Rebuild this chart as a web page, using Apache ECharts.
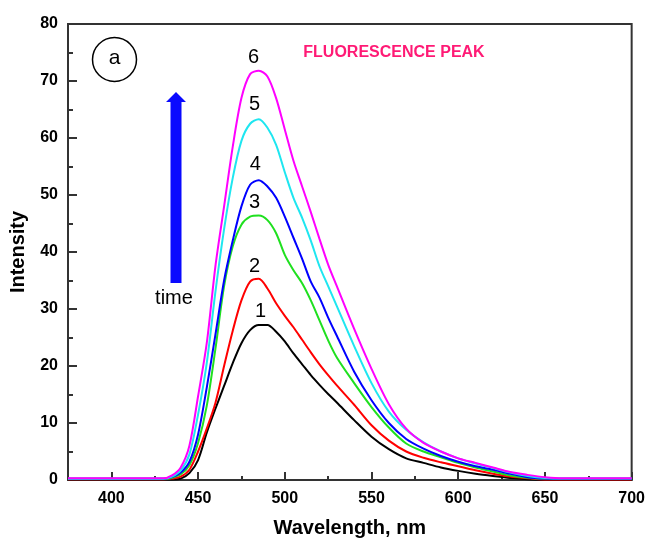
<!DOCTYPE html>
<html>
<head>
<meta charset="utf-8">
<script src="https://cdn.jsdelivr.net/npm/echarts@6/dist/echarts.min.js"></script>
<style>
  html, body { margin: 0; padding: 0; background: #fff; }
  #chart { width: 648px; height: 545px; }
</style>
</head>
<body>
<div id="chart"></div>
<script>
  // wavelength grid, nm
  var wl = [375, 400, 425, 430, 435, 440, 445, 450, 455, 460, 465, 470, 475, 480, 485, 490, 495, 500, 505, 510,
    515, 520, 525, 530, 540, 550, 560, 570, 580, 590, 600, 610, 620, 630, 640, 650, 660, 680, 700];

  // intensity of each spectrum
  var s1 = [0.1, 0.1, 0.1, 0.1, 0.1, 0.25, 1.2, 3.5, 8.3, 12.5, 16.5, 20.5, 24, 26.3, 27.2, 27.2, 26, 24.3, 22.2, 20.3,
    18.4, 16.7, 15.1, 13.6, 10.5, 7.6, 5.4, 3.8, 3, 2.2, 1.6, 1.1, 0.7, 0.35, 0.15, 0.05, 0.05, 0.05, 0.05];
  var s2 = [0.15, 0.15, 0.15, 0.15, 0.25, 0.6, 1.8, 5, 9, 13.5, 20, 26.2, 31.5, 34.8, 35.3, 33.6, 31, 28.8, 26.8, 24.6,
    22.4, 20.3, 18.4, 16.6, 13.2, 9.6, 6.9, 5, 3.9, 3.1, 2.4, 1.7, 1.1, 0.6, 0.3, 0.1, 0.1, 0.1, 0.1];
  var s3 = [0.2, 0.2, 0.2, 0.2, 0.4, 1.0, 2.6, 6.5, 13, 23, 34, 41, 44.8, 46.2, 46.4, 45.6, 43.3, 39.5, 36.8, 34.5,
    31.5, 28, 24.5, 21.5, 17, 12.8, 9.2, 6.4, 5, 4, 3, 2.2, 1.5, 0.8, 0.4, 0.2, 0.2, 0.2, 0.2];
  var s4 = [0.2, 0.2, 0.2, 0.2, 0.5, 1.3, 3.2, 8, 16.2, 25.5, 35, 42, 48, 51.8, 52.6, 51.5, 49.5, 46.2, 42.5, 38.8,
    34.8, 32, 28.5, 25.3, 19, 14, 10, 7.2, 5.5, 4.2, 3.2, 2.4, 1.8, 1.1, 0.5, 0.25, 0.2, 0.2, 0.2];
  var s5 = [0.2, 0.2, 0.2, 0.2, 0.6, 1.7, 4.5, 11.5, 20.5, 33, 44, 53, 59.5, 62.5, 63.3, 61.8, 58.8, 54, 49.5, 46,
    42, 37.5, 34, 30.5, 23.5, 17, 12, 8.8, 6.6, 5, 3.8, 2.9, 2.1, 1.3, 0.7, 0.35, 0.25, 0.25, 0.25];
  var s6 = [0.3, 0.3, 0.3, 0.3, 0.8, 2.2, 6, 14.7, 24, 37.5, 48, 58.5, 67, 71.2, 71.8, 70.8, 67, 61.5, 56, 51.5,
    47, 42.3, 37.8, 34, 26.5, 19.5, 13.3, 9, 6.5, 5, 3.8, 3, 2.2, 1.4, 0.9, 0.5, 0.3, 0.3, 0.3];

  var names = ['1', '2', '3', '4', '5', '6'];
  var colors = ['#000000', '#ff0000', '#1fe01f', '#0000ff', '#1ee6f0', '#ff00ff'];
  // where the curve numbers sit [wavelength, intensity]
  var tagPos = [[486, 29.5], [482.5, 37.5], [482.5, 48.6], [483, 55.3], [482.5, 65.8], [482, 74.1]];

  var xMajor = [400, 450, 500, 550, 600, 650, 700];
  var xMinor = [425, 475, 525, 575, 625, 675];

  var font = "'Liberation Sans', Arial, sans-serif";
  var allSeries = [s1, s2, s3, s4, s5, s6];

  var myChart = echarts.init(document.getElementById('chart'));

  var series = [];
  for (var i = 0; i < allSeries.length; i++) {
    var pts = [];
    for (var j = 0; j < wl.length; j++) {
      pts.push([wl[j], allSeries[i][j]]);
    }
    series.push({
      name: names[i],
      type: 'line',
      xAxisIndex: 0,
      data: pts,
      showSymbol: false,
      smooth: 0.3,
      lineStyle: { color: colors[i], width: 2 },
      itemStyle: { color: colors[i] },
      z: 2 + i,
      markPoint: {
        symbol: 'circle',
        symbolSize: 0,
        data: [{ coord: tagPos[i] }],
        label: {
          show: true,
          position: 'inside',
          formatter: names[i],
          color: '#000',
          fontSize: 20,
          fontFamily: font
        }
      }
    });
  }

  var option = {
    animation: false,
    backgroundColor: '#fff',
    grid: {
      left: 68,
      right: 15,
      top: 24,
      bottom: 65,
      show: true,
      borderColor: '#333',
      borderWidth: 2
    },
    xAxis: [{
      type: 'value',
      min: 375,
      max: 700,
      name: 'Wavelength, nm',
      nameLocation: 'middle',
      nameGap: 38,
      nameTextStyle: { fontSize: 20, fontWeight: 'bold', color: '#000', fontFamily: font },
      axisLine: { lineStyle: { color: '#333', width: 2 } },
      axisTick: { inside: true, length: 8, customValues: xMajor, lineStyle: { color: '#333', width: 2 } },
      axisLabel: { customValues: xMajor, margin: 11, fontSize: 16, fontWeight: 'bold', color: '#000', fontFamily: font },
      splitLine: { show: false }
    }, {
      // second axis only for the short in-between ticks
      type: 'value',
      min: 375,
      max: 700,
      position: 'bottom',
      axisLine: { show: false },
      axisTick: { inside: true, length: 4, customValues: xMinor, lineStyle: { color: '#333', width: 2 } },
      axisLabel: { show: false },
      splitLine: { show: false }
    }],
    yAxis: {
      type: 'value',
      min: 0,
      max: 80,
      interval: 10,
      name: 'Intensity',
      nameLocation: 'middle',
      nameGap: 40,
      nameTextStyle: { fontSize: 20, fontWeight: 'bold', color: '#000', fontFamily: font },
      axisLine: { show: true, lineStyle: { color: '#333', width: 2 } },
      axisTick: { show: true, inside: true, length: 9, lineStyle: { color: '#333', width: 2 } },
      minorTick: { show: true, splitNumber: 2, length: 5, lineStyle: { color: '#333', width: 2 } },
      axisLabel: { margin: 10, fontSize: 16, fontWeight: 'bold', color: '#000', fontFamily: font },
      splitLine: { show: false },
      minorSplitLine: { show: false }
    },
    graphic: [
      {
        type: 'circle',
        shape: { cx: 114.5, cy: 59.5, r: 22 },
        style: { fill: 'none', stroke: '#000', lineWidth: 1.5 }
      },
      {
        type: 'text',
        x: 114.5, y: 58,
        style: { text: 'a', fontSize: 21, fontFamily: font, fill: '#000', align: 'center', verticalAlign: 'middle' }
      },
      {
        type: 'text',
        x: 394, y: 53,
        style: { text: 'FLUORESCENCE PEAK', fontSize: 16, fontWeight: 'bold', fontFamily: font, fill: '#ff1a75',
          align: 'center', verticalAlign: 'middle' }
      },
      {
        type: 'polygon',
        shape: { points: [[166, 102], [176, 92], [186, 102], [181.5, 102], [181.5, 283], [170.5, 283], [170.5, 102]] },
        style: { fill: '#0a0aff' }
      },
      {
        type: 'text',
        x: 174, y: 298,
        style: { text: 'time', fontSize: 20, fontFamily: font, fill: '#000', align: 'center', verticalAlign: 'middle' }
      }
    ],
    series: series
  };
  myChart.setOption(option);
</script>
</body>
</html>
